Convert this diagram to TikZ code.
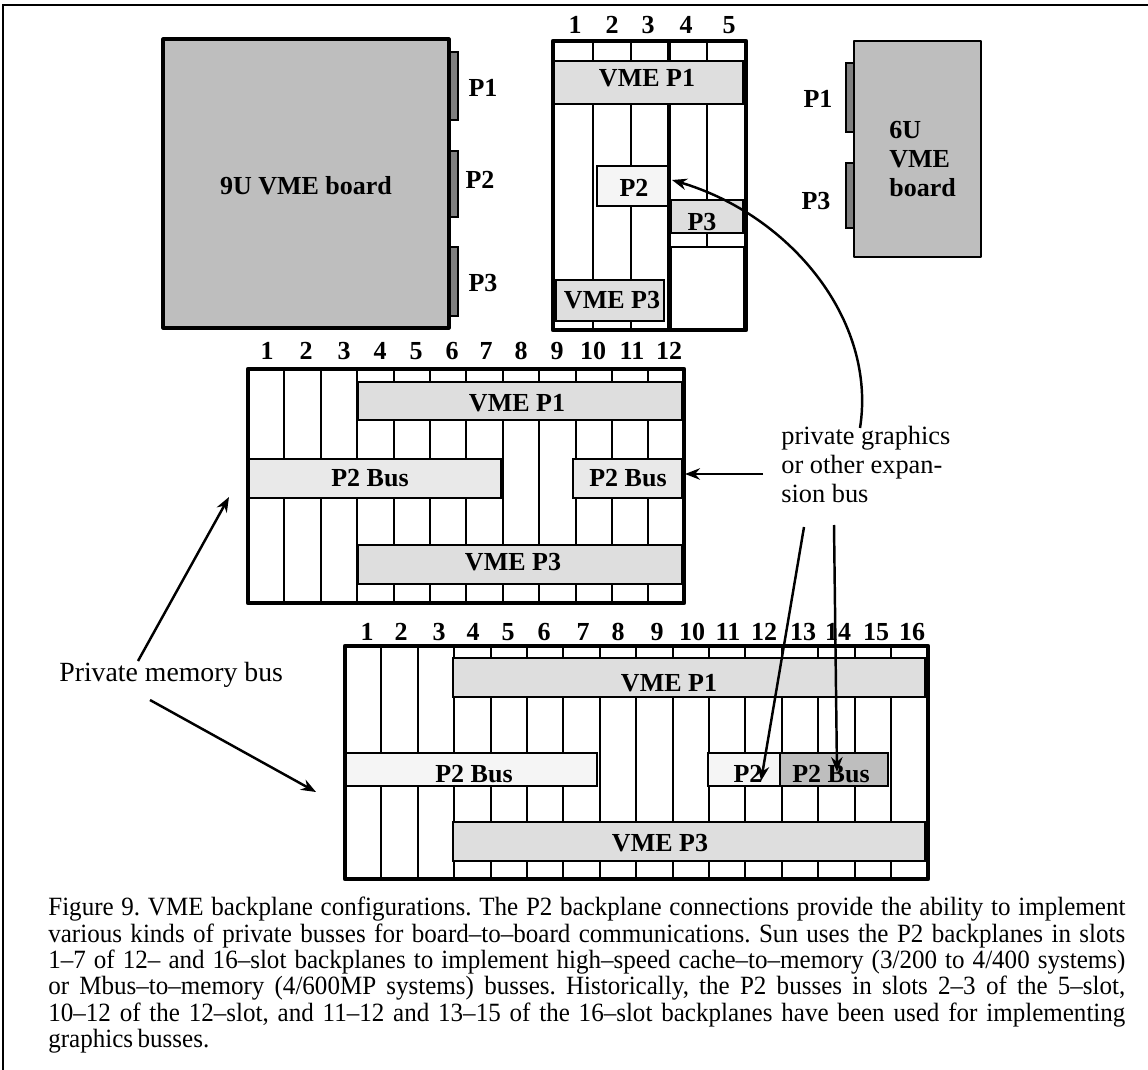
\documentclass[tikz,border=0pt]{standalone}
\usepackage{fontspec}
\setmainfont{Liberation Serif}
\newfontfamily\capfont[FakeStretch=0.95]{Liberation Serif}
\usetikzlibrary{arrows.meta}
\definecolor{boardgray}{HTML}{BEBEBE}
\definecolor{plugray}{HTML}{808080}
\definecolor{busgray}{HTML}{DEDEDE}
\definecolor{buslight}{HTML}{F5F5F5}
\begin{document}
\begin{tikzpicture}[x=0.02cm,y=-0.02cm,frameline/.style={line width=2.4pt,line join=round},slotline/.style={line width=1.2pt},slotthick/.style={line width=2.4pt},board/.style={draw,fill=boardgray,line width=1.5pt,line join=round},plug/.style={draw,fill=plugray,line width=1.3pt},busbox/.style={draw,fill=busgray,line width=1.2pt},p2box/.style={draw,fill=buslight,line width=1.2pt},title/.style={font=\bfseries\fontsize{14.8}{16.5}\selectfont,inner sep=0pt,align=left},note/.style={font=\fontsize{15}{16.5}\selectfont,inner sep=0pt,align=left},pointer/.style={-{Stealth[length=8.5pt,width=6.5pt]},line width=1.4pt}]
\useasboundingbox (0,0) rectangle (1148,1070);
\draw[line width=1.3pt] (3,1070) -- (3,5) -- (1148,5);
\draw[plug] (449,52) rectangle (458,120); \draw[plug] (449,151) rectangle (458,217); \draw[plug] (449,247) rectangle (458,316);
\draw[board,line width=1.8pt] (163,39) rectangle (449,328);
\node[title] (boardnine) at (306,186) {9U VME board};
\node[title] (nineone) at (483,88) {P1}; \node[title] (ninetwo) at (480,180) {P2}; \node[title] (ninethree) at (483,283) {P3};
\begin{scope}
\foreach \n/\xp in {1/575,2/612,3/648,4/686,5/729} \node[title] (five\n) at (\xp,25) {\n};
\foreach \xp in {593,631,707} \draw[slotline] (\xp,41) -- (\xp,330);
\draw[slotthick] (669,41) -- (669,330);
\draw[slotline,fill=white] (671,247) rectangle (744,330);
\draw[busbox] (553,61) rectangle (743,104); \node[title] (fivepone) at (647,78) {VME P1};
\draw[p2box] (597,166) rectangle (668,206); \node[title] (fiveptwo) at (634,188) {P2};
\draw[busbox] (671,200) rectangle (743,233); \node[title] (fivepthree) at (702,222) {P3};
\draw[busbox] (556,280) rectangle (664,321); \node[title] (fivevmethree) at (612,300) {VME P3};
\draw[frameline] (553,41) rectangle (746,330);
\end{scope}
\draw[plug] (846,63) rectangle (854,132); \draw[plug] (846,163) rectangle (854,228);
\draw[board] (854,41) rectangle (981,257);
\node[title,anchor=west] (boardsix) at (889,159) {6U\\VME\\board};
\node[title] (sixone) at (818,99) {P1}; \node[title] (sixthree) at (816,201) {P3};
\begin{scope}
\foreach \n/\xp in {1/267,2/306,3/344,4/380,5/416,6/452,7/486,8/521,9/557,10/593,11/632,12/669} \node[title] (twelve\n) at (\xp,351) {\n};
\foreach \i in {1,...,11} \draw[slotline] ({248+36.4*\i},369) -- ({248+36.4*\i},603);
\draw[busbox] (358,382) rectangle (682,420); \node[title] (twelvepone) at (517,403) {VME P1};
\draw[p2box,fill=buslight!95!black] (248,459) rectangle (501,498); \node[title] (twelvebusa) at (370,478) {P2 Bus};
\draw[p2box,fill=buslight!95!black] (573,459) rectangle (682,498); \node[title] (twelvebusb) at (628,478) {P2 Bus};
\draw[busbox] (358,545) rectangle (682,584); \node[title] (twelvepthree) at (513,562) {VME P3};
\draw[frameline] (248,369) rectangle (684,603);
\end{scope}
\begin{scope}
\foreach \n/\xp in {1/367,2/401,3/439,4/473,5/508,6/544,7/583,8/618,9/657,10/692,11/728,12/764,13/803,14/838,15/876,16/912} \node[title] (sixteen\n) at (\xp,632) {\n};
\foreach \i in {1,...,15} \draw[slotline] ({345+36.4*\i},646) -- ({345+36.4*\i},879);
\draw[busbox] (453,658) rectangle (925,697); \node[title] (sixteenpone) at (669,683) {VME P1};
\draw[p2box] (345,753) rectangle (597,786); \node[title] (sixteenbusa) at (474,774) {P2 Bus};
\draw[p2box] (708,753) rectangle (780,786); \node[title] (sixteenptwo) at (748,774) {P2};
\draw[p2box,fill=boardgray] (780,753) rectangle (888,786); \node[title] (sixteenbusb) at (831,774) {P2 Bus};
\draw[busbox] (453,822) rectangle (925,861); \node[title] (sixteenpthree) at (660,843) {VME P3};
\draw[frameline] (345,646) rectangle (928,879);
\end{scope}
\node[note,anchor=west] (gfxnote) at (781,464) {private graphics\\or other expan-\\sion bus};
\node[note,anchor=west,font=\fontsize{15.8}{16.5}\selectfont] (memnote) at (59,675) {Private memory bus};
\coordinate (gfxcurve) at (860,428); \coordinate (gfxtip) at (672,180); \coordinate (gfxfeed) at (763,474); \coordinate (gfxbusb) at (685,474);
\coordinate (gfxleft) at (804,527); \coordinate (gfxlefttip) at (761,781); \coordinate (gfxright) at (834,525); \coordinate (gfxrighttip) at (837,772);
\coordinate (memup) at (138,661); \coordinate (memuptip) at (229,497); \coordinate (memdown) at (150,700); \coordinate (memdowntip) at (316,792);
\draw[pointer] (gfxcurve) .. controls (877,320) and (790,215) .. (gfxtip);
\draw[pointer] (gfxfeed) -- (gfxbusb);
\draw[pointer] (gfxleft) -- (gfxlefttip); \draw[pointer] (gfxright) -- (gfxrighttip);
\draw[pointer] (memup) -- (memuptip); \draw[pointer] (memdown) -- (memdowntip);
\node[anchor=north west,inner sep=0pt,text width=1077*0.02cm,align=justify,font=\capfont\fontsize{15}{15}\selectfont] (caption) at (48,897) {\frenchspacing\spaceskip=.17em plus .2em minus .05em Figure 9. VME backplane configurations. The P2 backplane connections provide the ability to implement\linebreak various kinds of private busses for board–to–board communications. Sun uses the P2 backplanes in slots\linebreak 1–7 of 12– and 16–slot backplanes to implement high–speed cache–to–memory (3/200 to 4/400 systems)\linebreak or Mbus–to–memory (4/600MP systems) busses. Historically, the P2 busses in slots 2–3 of the 5–slot,\linebreak 10–12 of the 12–slot, and 11–12 and 13–15 of the 16–slot backplanes have been used for implementing\linebreak graphics busses.};
\end{tikzpicture}
\end{document}
